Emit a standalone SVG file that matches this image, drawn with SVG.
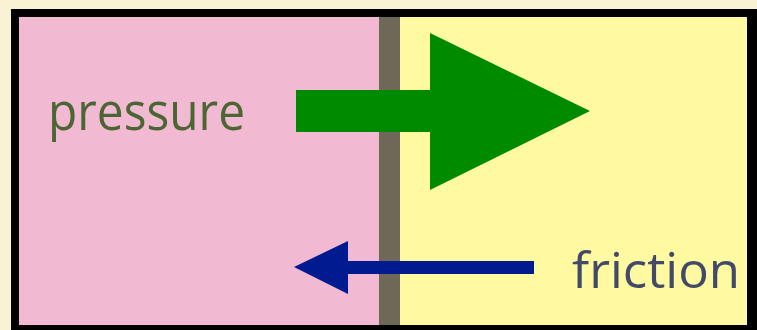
<svg xmlns="http://www.w3.org/2000/svg" width="757" height="330" viewBox="0 0 757 330">
  <style>
    .label { font-family: "Open Sans", Lato, sans-serif; font-variant-ligatures: none; }
  </style>
  <!-- background -->
  <rect x="0" y="0" width="757" height="330" fill="#faf2d5"/>
  <!-- frame -->
  <rect x="11" y="9" width="746" height="321" fill="#000"/>
  <g id="left-chamber">
    <rect x="19" y="17" width="360" height="308" fill="#f2b9d2"/>
    <text class="label" x="48" y="130" font-size="51" fill="#4b6633" textLength="197" lengthAdjust="spacingAndGlyphs">pressure</text>
  </g>
  <g id="right-chamber">
    <rect x="400" y="17" width="347" height="308" fill="#fff9a1"/>
  </g>
  <g id="piston">
    <rect x="379" y="17" width="21" height="308" fill="#6e6859"/>
  </g>
  <g id="friction-label">
    <text class="label" x="572" y="288" font-size="50" fill="#424a68" textLength="168" lengthAdjust="spacingAndGlyphs">friction</text>
  </g>
  <g id="connectors">
    <polygon points="296,90 430,90 430,33 590,111 430,190 430,132 296,132" fill="#008a00"/>
    <polygon points="534,261 348,261 348,241 294,267 348,294 348,274 534,274" fill="#001a8f"/>
  </g>
</svg>
